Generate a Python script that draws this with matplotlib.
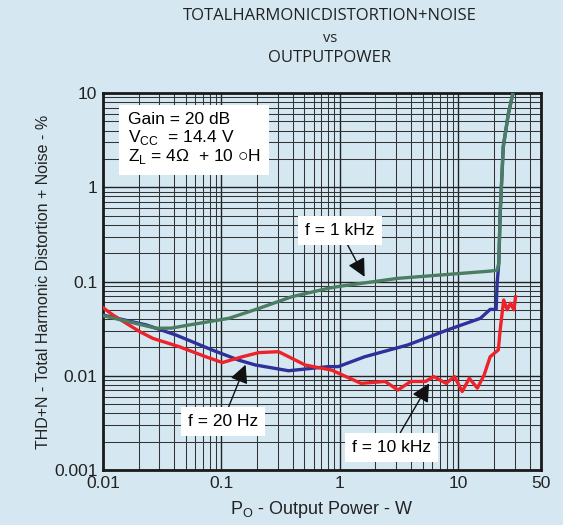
import matplotlib
matplotlib.use("Agg")
import matplotlib.pyplot as plt
from matplotlib.ticker import LogLocator, NullFormatter, FixedLocator, FixedFormatter

# ---- data ----
x_1k = [0.01, 0.0282, 0.0376, 0.0535, 0.116, 0.207, 0.394, 0.80, 1.0, 3.09, 18.7, 21.3, 22.0, 22.6, 24.0, 26.5, 29.0]
y_1k = [0.0434, 0.0319, 0.032, 0.0346, 0.0407, 0.0518, 0.069, 0.0847, 0.089, 0.108, 0.129, 0.132, 0.156, 0.53, 2.69, 6.0, 10.0]

x_20 = [0.01, 0.0232, 0.0415, 0.0841, 0.141, 0.194, 0.369, 0.80, 0.97, 1.62, 3.74, 8.1, 15.4, 18.6, 20.9, 21.3, 22.0, 22.6, 24.0, 26.5, 29.0]
y_20 = [0.044, 0.0346, 0.027, 0.0187, 0.0146, 0.013, 0.0113, 0.0125, 0.0125, 0.0159, 0.0212, 0.0306, 0.0407, 0.0506, 0.0506, 0.0952, 0.156, 0.53, 2.69, 6.0, 10.0]

x_10k = [0.01, 0.0122, 0.0204, 0.0264, 0.0442, 0.0739, 0.1018, 0.15, 0.207, 0.304, 0.51, 0.658, 0.85,
         1.51, 2.41, 3.1, 3.97, 5.3, 6.2, 7.9, 9.3, 10.8, 12.4, 14.5, 16.5, 18.6, 21.8, 22.6, 24.2, 25.9, 27.6, 29.5, 30.5]
y_10k = [0.0527, 0.0439, 0.0294, 0.0249, 0.0203, 0.0159, 0.0138, 0.0159, 0.0176, 0.018, 0.013, 0.0122, 0.0115,
         0.0083, 0.0087, 0.00706, 0.0087, 0.0087, 0.0098, 0.0083, 0.0098, 0.0068, 0.0094, 0.0074, 0.0101, 0.0159, 0.0188, 0.0306, 0.0637, 0.0501, 0.0588, 0.0501, 0.0687]

x_ticks = [0.01, 0.1, 1, 10, 50]
x_tick_labels = ["0.01", "0.1", "1", "10", "50"]
y_ticks = [0.001, 0.01, 0.1, 1, 10]
y_tick_labels = ["0.001", "0.01", "0.1", "1", "10"]

BG = "#d5e8f2"
GREEN = "#4b7d62"
BLUE = "#2e3199"
RED = "#ee2229"

plt.rcParams['font.family'] = ['Liberation Sans', 'DejaVu Sans']

fig = plt.figure(figsize=(5.63, 5.25), dpi=100)
fig.patch.set_facecolor(BG)
ax = fig.add_axes([103/563, 1-470/525, 438/563, 377/525])
ax.set_facecolor(BG)
ax.set_xscale('log')
ax.set_yscale('log')
ax.set_xlim(0.01, 50)
ax.set_ylim(0.001, 10)

ax.xaxis.set_minor_locator(LogLocator(base=10, subs=range(2, 10), numticks=20))
ax.yaxis.set_minor_locator(LogLocator(base=10, subs=range(2, 10), numticks=20))
ax.xaxis.set_minor_formatter(NullFormatter())
ax.yaxis.set_minor_formatter(NullFormatter())
ax.xaxis.set_major_locator(FixedLocator(x_ticks))
ax.xaxis.set_major_formatter(FixedFormatter(x_tick_labels))
ax.yaxis.set_major_locator(FixedLocator(y_ticks))
ax.yaxis.set_major_formatter(FixedFormatter(y_tick_labels))
ax.grid(True, which='major', color='#222222', lw=1.0)
ax.grid(True, which='minor', color='#333333', lw=0.75)
ax.tick_params(which='both', length=0, labelsize=12.5, pad=4, colors='#222222')
for s in ax.spines.values():
    s.set_linewidth(2.0)
    s.set_color('#1a1a1a')

ax.plot(x_20, y_20, color=BLUE, lw=2.4, zorder=3)
ax.plot(x_1k, y_1k, color=GREEN, lw=2.4, zorder=4)
ax.plot(x_10k, y_10k, color=RED, lw=2.4, zorder=3)

# info box
ax.text(0.0162, 6.3,
        "Gain = 20 dB\nV$_{\\mathregular{CC}}$  = 14.4 V\nZ$_{\\mathregular{L}}$ = 4\u03a9  + 10 \u25cbH",
        fontsize=12.5, va='top', ha='left', linespacing=1.05, zorder=6,
        bbox=dict(boxstyle='square,pad=0.5', fc='white', ec='none'))

def label(txt, xy_text, xy_arrow):
    ax.annotate(txt, xy=xy_arrow, xytext=xy_text, fontsize=12.5, ha='center', va='center', zorder=6,
                bbox=dict(boxstyle='square,pad=0.4', fc='white', ec='none'),
                arrowprops=dict(arrowstyle='-|>,head_length=1.1,head_width=0.55', color='#111111', lw=1.0,
                                shrinkA=0, shrinkB=0, mutation_scale=10))

label("f = 1 kHz", (1.0, 0.35), (1.62, 0.112))
label("f = 20 Hz", (0.103, 0.0033), (0.16, 0.0131))
label("f = 10 kHz", (2.75, 0.00175), (5.68, 0.0083))

ax.set_xlabel("P$_{\\mathregular{O}}$ - Output Power - W", fontsize=13, labelpad=6, color='#222222')
ax.set_ylabel("THD+N - Total Harmonic Distortion + Noise - %", fontsize=11.5, labelpad=2, color='#222222')

fig.text(330/563, 1-16/525, "TOTALHARMONICDISTORTION+NOISE", ha='center', va='center', fontsize=12,
         family=['Open Sans', 'DejaVu Sans'], color='#222222')
fig.text(330/563, 1-38/525, "vs", ha='center', va='center', fontsize=10.5,
         family=['Open Sans', 'DejaVu Sans'], color='#222222')
fig.text(330/563, 1-58/525, "OUTPUTPOWER", ha='center', va='center', fontsize=12,
         family=['Open Sans', 'DejaVu Sans'], color='#222222')

fig.savefig("out.png", dpi=100, facecolor=BG)
